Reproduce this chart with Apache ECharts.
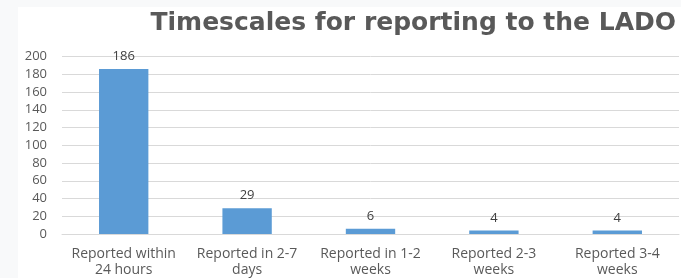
<!DOCTYPE html>
<html><head><meta charset="utf-8">
<script src="https://cdn.jsdelivr.net/npm/echarts@6/dist/echarts.min.js"></script>
<style>html,body{margin:0;padding:0;background:#f8f9fa;}#c{position:absolute;left:0;top:0;width:681px;height:278px;}</style>
</head><body><div id="c"></div>
<script>
const categories = ["Reported within\n24 hours", "Reported in 2-7\ndays", "Reported in 1-2\nweeks", "Reported 2-3\nweeks", "Reported 3-4\nweeks"];
const values = [186, 29, 6, 4, 4];
const yTicks = {min: 0, max: 200, interval: 20};
const titleText = "Timescales for reporting to the LADO";

const chart = echarts.init(document.getElementById('c'), null, {renderer: 'canvas'});
chart.setOption({
  backgroundColor: 'transparent',
  animation: false,
  graphic: [{type: 'rect', left: 18, top: 7, shape: {width: 663, height: 271}, style: {fill: '#ffffff'}, z: -10}],
  title: {text: titleText, right: 0, top: 6,
    textStyle: {fontFamily: 'DejaVu Sans', fontWeight: 'bold', fontSize: 25, color: '#595959'}},
  grid: {left: 62, right: 2, top: 56.5, bottom: 43},
  xAxis: {type: 'category', data: categories,
    axisLine: {lineStyle: {color: '#d9d9d9'}}, axisTick: {show: false},
    axisLabel: {fontFamily: 'Open Sans', fontSize: 14, color: '#595959', lineHeight: 16, margin: 12, interval: 0}},
  yAxis: {type: 'value', min: yTicks.min, max: yTicks.max, interval: yTicks.interval,
    axisLine: {show: false}, axisTick: {show: false},
    splitLine: {lineStyle: {color: '#d9d9d9'}},
    axisLabel: {fontFamily: 'Open Sans', fontSize: 13, color: '#595959', margin: 15}},
  series: [{type: 'bar', data: values, barWidth: '40%',
    itemStyle: {color: '#5b9bd5'},
    label: {show: true, position: 'top', distance: 6, fontFamily: 'Open Sans', fontSize: 13, color: '#404040'}}]
});
</script></body></html>
